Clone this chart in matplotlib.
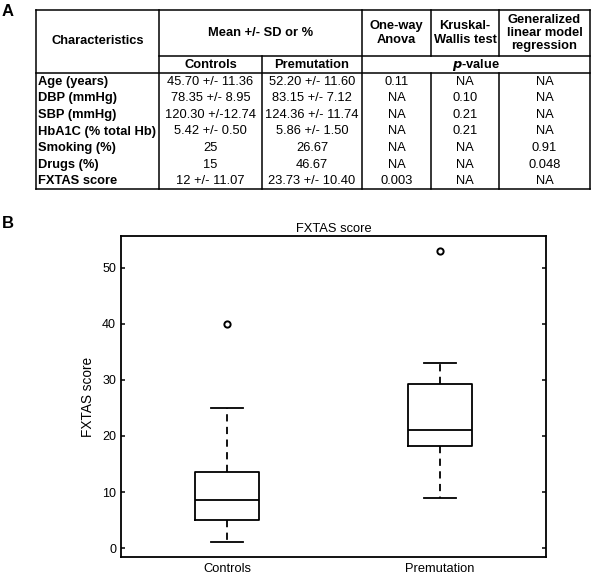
import matplotlib
matplotlib.use("Agg")
import matplotlib.pyplot as plt

plt.rcParams['font.family'] = ['Liberation Sans', 'DejaVu Sans']

# table content
row_names = ['Age (years)', 'DBP (mmHg)', 'SBP (mmHg)', 'HbA1C (% total Hb)',
             'Smoking (%)', 'Drugs (%)', 'FXTAS score']
controls = ['45.70 +/- 11.36', '78.35 +/- 8.95', '120.30 +/-12.74', '5.42 +/- 0.50',
            '25', '15', '12 +/- 11.07']
premutation = ['52.20 +/- 11.60', '83.15 +/- 7.12', '124.36 +/- 11.74', '5.86 +/- 1.50',
               '26.67', '46.67', '23.73 +/- 10.40']
anova = ['0.11', 'NA', 'NA', 'NA', 'NA', 'NA', '0.003']
kruskal = ['NA', '0.10', '0.21', '0.21', 'NA', 'NA', 'NA']
glm = ['NA', 'NA', 'NA', 'NA', '0.91', '0.048', 'NA']

# boxplot summary
groups = ['Controls', 'Premutation']
whislo = [1, 9]
q1 = [5, 18.2]
med = [8.5, 21]
q3 = [13.5, 29.3]
whishi = [25, 33]
fliers = [[40], [53]]

fig = plt.figure(figsize=(6, 5.74), dpi=100)

# ---- panel A: table drawn in pixel coords
ax0 = fig.add_axes([0, 0, 1, 1])
ax0.set_xlim(0, 600)
ax0.set_ylim(574, 0)
ax0.axis('off')

lw = 1.1
xs = [36, 159, 262, 362, 431, 499, 590]
top, mid, sub, bot = 10, 56, 73, 189

def hl(y, x0, x1):
    ax0.plot([x0, x1], [y, y], color='black', lw=lw, solid_capstyle='projecting')

def vl(x, y0, y1):
    ax0.plot([x, x], [y0, y1], color='black', lw=lw, solid_capstyle='projecting')

hl(top, xs[0], xs[-1])
hl(mid, xs[1], xs[-1])
hl(sub, xs[0], xs[-1])
hl(bot, xs[0], xs[-1])
vl(xs[0], top, bot)
vl(xs[-1], top, bot)
vl(xs[1], top, bot)
vl(xs[3], top, bot)
vl(xs[2], mid, bot)
vl(xs[4], top, mid)
vl(xs[5], top, mid)
vl(xs[4], sub, bot)
vl(xs[5], sub, bot)

fs = 9.3
hdr = dict(ha='center', va='center', fontsize=fs, fontweight='bold')
ax0.text((xs[0] + xs[1]) / 2, (top + sub) / 2, 'Characteristics', **hdr)
ax0.text((xs[1] + xs[3]) / 2, (top + mid) / 2, 'Mean +/- SD or %', **hdr)
ax0.text((xs[3] + xs[4]) / 2, (top + mid) / 2, 'One-way\nAnova', linespacing=1.15, **hdr)
ax0.text((xs[4] + xs[5]) / 2, (top + mid) / 2, 'Kruskal-\nWallis test', linespacing=1.15, **hdr)
ax0.text((xs[5] + xs[6]) / 2, (top + mid) / 2, 'Generalized\nlinear model\nregression',
         linespacing=1.15, **hdr)
ax0.text((xs[1] + xs[2]) / 2, (mid + sub) / 2 + 0.5, 'Controls', **hdr)
ax0.text((xs[2] + xs[3]) / 2, (mid + sub) / 2 + 0.5, 'Premutation', **hdr)
ax0.text((xs[3] + xs[6]) / 2, (mid + sub) / 2 + 0.5, r'$\mathbfit{p}$-value', **hdr)

rh = (bot - sub) / len(row_names)
for i, name in enumerate(row_names):
    y = sub + rh * (i + 0.5) + 0.5
    ax0.text(xs[0] + 1.5, y, name, ha='left', va='center', fontsize=fs, fontweight='bold')
    for j, col in enumerate([controls, premutation, anova, kruskal, glm]):
        ax0.text((xs[j + 1] + xs[j + 2]) / 2, y, col[i], ha='center', va='center', fontsize=fs)

ax0.text(2, 12, 'A', fontsize=12, fontweight='bold', va='center', ha='left')
ax0.text(2, 223, 'B', fontsize=12, fontweight='bold', va='center', ha='left')

# ---- panel B: boxplot
ax = fig.add_axes([121 / 600, 17 / 574, 425 / 600, 321 / 574])
stats = []
for k in range(len(groups)):
    stats.append(dict(label=groups[k], whislo=whislo[k], q1=q1[k], med=med[k],
                      q3=q3[k], whishi=whishi[k], fliers=fliers[k]))
ax.bxp(stats, positions=[1, 2], widths=0.3, showfliers=True,
       boxprops=dict(color='black', lw=1.3),
       medianprops=dict(color='black', lw=1.3),
       whiskerprops=dict(color='black', lw=1.3, linestyle=(0, (4, 3))),
       capprops=dict(color='black', lw=1.3),
       capwidths=0.15,
       flierprops=dict(marker='o', markerfacecolor='none', markeredgecolor='black',
                       markersize=4.5, markeredgewidth=1.4))
ax.set_xlim(0.5, 2.5)
ax.set_ylim(-1.6, 55.7)
ax.set_yticks([0, 10, 20, 30, 40, 50])
ax.tick_params(axis='y', direction='in', length=3, width=1.1, right=True, labelsize=9)
ax.tick_params(axis='x', length=0, labelsize=9.3, pad=4)
for s in ax.spines.values():
    s.set_linewidth(1.3)
ax.set_title('FXTAS score', fontsize=9.3, pad=3)
ax.set_ylabel('FXTAS score', fontsize=9.8, labelpad=5)

fig.savefig('out.png', dpi=100)
